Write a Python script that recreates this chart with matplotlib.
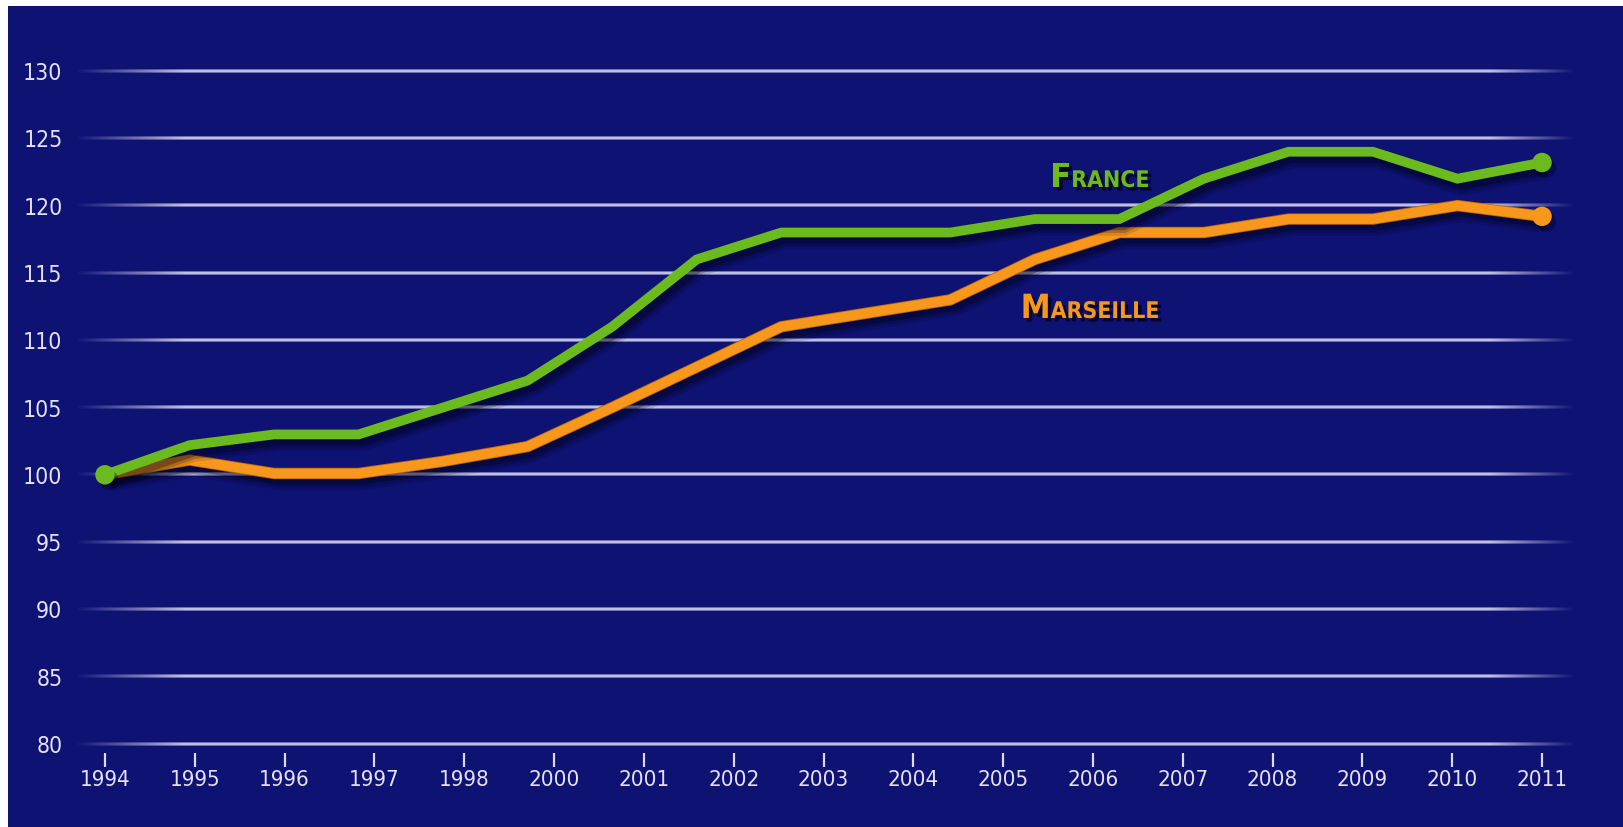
import numpy as np
import matplotlib
matplotlib.use("Agg")
import matplotlib.pyplot as plt
from matplotlib.patches import Rectangle
import matplotlib.patheffects as pe
from matplotlib import font_manager
from matplotlib.colors import to_rgba

# ---------------- data ----------------
years = list(range(1994, 2012))
france = [100, 102.2, 103, 103, 105, 107, 111, 116, 118, 118, 118, 119, 119, 122, 124, 124, 122, 123.2]
marseille = [100, 101.1, 100.1, 100.1, 101, 102.1, 105, 108, 111, 112, 113, 116, 118, 118, 119, 119, 120, 119.2]
x_tick_labels = ['1994', '1995', '1996', '1997', '1998', '2000', '2001', '2002', '2003',
                 '2004', '2005', '2006', '2007', '2008', '2009', '2010', '2011']
y_ticks = [80, 85, 90, 95, 100, 105, 110, 115, 120, 125, 130]

# ---------------- style ----------------
NAVY = '#0E1273'
GREEN = '#6CBB1E'
ORANGE = '#F7981C'
GRID = '#EEEEFF'
TICKC = '#D8D8F6'
TXT = '#E2E2F4'

names = {f.name for f in font_manager.fontManager.ttflist}
if 'Liberation Sans Narrow' in names:
    FONT = ['Liberation Sans Narrow', 'DejaVu Sans']
    STRETCH = 'normal'
else:
    FONT = ['DejaVu Sans']
    STRETCH = 'condensed'
plt.rcParams['font.family'] = FONT

W, H = 1624, 827
fig = plt.figure(figsize=(W / 100, H / 100), dpi=100)
fig.patch.set_facecolor('white')
fig.patches.append(Rectangle((8 / W, 0), 1 - 8 / W, 1 - 6 / H, transform=fig.transFigure,
                             facecolor=NAVY, edgecolor='none', zorder=-10))

ax_l, ax_r, ax_t, ax_b = 75, 1575, 40, 760
ax = fig.add_axes([ax_l / W, 1 - ax_b / H, (ax_r - ax_l) / W, (ax_b - ax_t) / H])
ax.set_facecolor('none')
for s in ax.spines.values():
    s.set_visible(False)

x = np.arange(len(years))
n = len(years) - 1
px_per_x = (1542 - 103) / n
x0 = -(105 - ax_l) / px_per_x
x1 = n + (ax_r - 1542) / px_per_x
px_per_y = (744 - 71) / 50.0
y0 = 80 - (ax_b - 744) / px_per_y
y1 = 130 + (71 - ax_t) / px_per_y

# ---------------- fading grid lines (gradient images) ----------------
N = 1500
gpx = np.linspace(ax_l, ax_r, N)
alpha = np.clip((gpx - ax_l) / 110.0, 0, 1) * np.clip((ax_r - gpx) / 85.0, 0, 1)
grad = np.zeros((3, N, 4))
grad[:, :, :3] = to_rgba(GRID)[:3]
grad[0, :, 3] = alpha * 0.45
grad[1, :, 3] = alpha
grad[2, :, 3] = alpha * 0.45
half = 1.6 / px_per_y
for yv in y_ticks:
    ax.imshow(grad, extent=(x0, x1, yv - half, yv + half), aspect='auto',
              interpolation='bilinear', zorder=1, origin='lower')

ax.set_xlim(x0, x1)
ax.set_ylim(y0, y1)

# ---------------- ticks ----------------
tick_pos = np.linspace(0, n, len(x_tick_labels))
ax.set_xticks(tick_pos)
ax.set_xticklabels(x_tick_labels)
ax.set_yticks(y_ticks)
ax.set_yticklabels([str(v) for v in y_ticks])
ax.tick_params(axis='x', direction='inout', length=10, width=1.6, color=TICKC,
               pad=2.0, labelsize=16, labelcolor=TXT)
ax.tick_params(axis='y', length=0, pad=9, labelsize=16.5, labelcolor=TXT)
for lab in ax.get_xticklabels() + ax.get_yticklabels():
    lab.set_fontstretch(STRETCH)

# ---------------- lines ----------------
LW = 7.0


def shadow_effects(extra=None):
    eff = [
        pe.SimpleLineShadow(offset=(3, -4.5), shadow_color='#000015', alpha=0.12, linewidth=LW + 8),
        pe.SimpleLineShadow(offset=(3, -4.5), shadow_color='#000015', alpha=0.2, linewidth=LW + 4),
        pe.SimpleLineShadow(offset=(3, -4.5), shadow_color='#000015', alpha=0.3, linewidth=LW),
    ]
    if extra:
        eff += extra
    eff.append(pe.Normal())
    return eff


ax.plot(x, marseille, color=ORANGE, lw=LW, solid_joinstyle='miter', solid_capstyle='butt',
        zorder=3, path_effects=shadow_effects([pe.Stroke(linewidth=LW + 1.2, foreground='#B9640C')]))
ax.plot(x[-1:], marseille[-1:], 'o', color=ORANGE, ms=14, mec='none', zorder=3,
        path_effects=[pe.SimplePatchShadow(offset=(3, -4), shadow_rgbFace='#000015', alpha=0.35), pe.Normal()])

ax.plot(x, france, color=GREEN, lw=LW, solid_joinstyle='miter', solid_capstyle='butt',
        zorder=4, path_effects=shadow_effects())
ax.plot(x[[0, -1]], [france[0], france[-1]], 'o', color=GREEN, ms=14, mec='none', zorder=4,
        path_effects=[pe.SimplePatchShadow(offset=(3, -4), shadow_rgbFace='#000015', alpha=0.35), pe.Normal()])

# ---------------- small-caps labels ----------------
text_fx = [pe.SimplePatchShadow(offset=(2.5, -2.5), shadow_rgbFace='#000010', alpha=0.7), pe.Normal()]


def small_caps(first, rest, xd, yd, color):
    t1 = ax.text(xd, yd, first, color=color, fontsize=24, fontweight='bold',
                 fontstretch=STRETCH, ha='left', va='baseline', zorder=6, path_effects=text_fx)
    ax.annotate(rest, xy=(1.0, yd), xycoords=(t1, 'data'), color=color, fontsize=16.5,
                fontweight='bold', fontstretch=STRETCH, ha='left', va='baseline', zorder=6,
                path_effects=text_fx)


small_caps('F', 'RANCE', (1052 - 105) / px_per_x, 80 + (744 - 187) / px_per_y, GREEN)
small_caps('M', 'ARSEILLE', (1022 - 105) / px_per_x, 80 + (744 - 318) / px_per_y, ORANGE)

fig.savefig('out.png', dpi=100, facecolor=fig.get_facecolor())
